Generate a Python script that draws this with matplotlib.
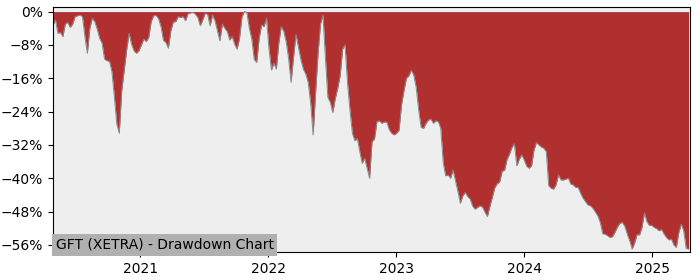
"""Drawdown chart for GFT (XETRA)."""

import matplotlib
matplotlib.use("Agg")
import matplotlib.pyplot as plt
import matplotlib.dates as mdates
from matplotlib.ticker import MultipleLocator, PercentFormatter
import numpy as np
import pandas as pd

# weekly samples, depth below the running peak in percent
start_date = "2020-04-27"
end_date = "2025-04-18"
depth_pct = [
    3.2, 2.0, 5.2, 5.0, 6.0, 3.0, 2.6, 3.8, 3.0, 1.2,
    1.0, 0.8, 1.2, 6.0, 10.0, 4.0, 1.6, 2.4, 4.2, 6.4,
    7.6, 11.4, 11.8, 11.9, 14.4, 20.4, 27.0, 29.2, 19.0, 14.2,
    9.2, 5.2, 7.8, 9.4, 10.0, 9.4, 8.0, 6.6, 7.2, 6.2,
    2.4, 1.0, 0.9, 1.7, 3.6, 6.9, 7.4, 8.8, 4.6, 2.5,
    2.4, 1.2, 1.4, 1.2, 2.2, 0.5, 0.3, 0.2, 0.6, 1.4,
    3.4, 2.0, 0.4, 0.7, 3.4, 0.8, 2.2, 4.6, 7.0, 3.0,
    4.0, 4.8, 6.8, 6.0, 7.8, 9.0, 6.4, 1.2, 0.0, 0.2,
    4.0, 6.6, 11.5, 12.2, 6.4, 3.2, 3.6, 1.6, 8.8, 14.0,
    12.4, 13.8, 7.6, 3.6, 4.7, 7.2, 11.2, 17.0, 11.0, 5.5,
    8.5, 11.5, 13.8, 15.0, 17.0, 22.0, 29.6, 19.5, 10.0, 3.0,
    0.8, 11.0, 20.6, 21.8, 24.2, 20.9, 18.4, 15.4, 9.0, 8.0,
    17.0, 23.6, 29.2, 31.0, 30.4, 33.6, 36.4, 35.2, 37.6, 40.0,
    31.2, 30.6, 26.4, 26.2, 26.8, 26.5, 26.5, 28.3, 29.2, 29.6,
    29.2, 28.5, 22.4, 19.0, 16.0, 15.4, 14.1, 15.2, 18.2, 23.6,
    27.8, 28.0, 26.8, 26.0, 25.8, 26.8, 26.2, 26.4, 28.0, 36.2,
    39.4, 39.2, 40.0, 38.0, 40.6, 43.2, 46.0, 44.2, 43.4, 44.4,
    45.0, 46.7, 47.4, 47.0, 46.6, 46.9, 48.1, 49.2, 46.8, 44.6,
    42.3, 41.3, 40.9, 38.3, 38.1, 35.5, 34.2, 32.6, 31.7, 37.0,
    35.4, 34.4, 35.6, 37.1, 37.6, 37.0, 33.2, 31.4, 32.0, 32.5,
    32.8, 33.6, 41.8, 42.4, 42.6, 41.5, 39.2, 40.4, 40.4, 40.2,
    40.0, 41.4, 41.6, 42.2, 42.2, 43.6, 44.8, 45.6, 46.4, 46.6,
    47.2, 48.1, 49.0, 50.6, 53.3, 53.4, 53.8, 54.2, 54.0, 52.9,
    51.7, 50.8, 50.6, 51.5, 53.4, 55.0, 57.0, 55.5, 53.5, 53.6,
    51.8, 48.3, 50.4, 51.3, 51.3, 51.8, 52.1, 52.6, 52.3, 53.4,
    54.2, 54.8, 54.6, 56.0, 56.6, 53.0, 51.0, 52.6, 56.8, 57.0,
]
title = "GFT (XETRA) - Drawdown Chart"

dates = pd.date_range(start_date, periods=len(depth_pct), freq="7D")
drawdown = -np.array(depth_pct)

fig = plt.figure(figsize=(7, 2.8), dpi=100)
ax = fig.add_axes([0.0757, 0.1, 0.91, 0.875])
ax.set_facecolor("#eeeeee")

ax.fill_between(dates, drawdown, 0, color="#b03030", linewidth=0)
ax.plot(dates, drawdown, color="#888888", linewidth=0.7)

ax.set_xlim(pd.Timestamp(start_date), pd.Timestamp(end_date))
ax.set_ylim(-57.7, 1.1)
ax.yaxis.set_major_locator(MultipleLocator(8))
ax.yaxis.set_major_formatter(PercentFormatter(decimals=0))
ax.xaxis.set_major_locator(mdates.YearLocator())
ax.xaxis.set_major_formatter(mdates.DateFormatter("%Y"))

ax.text(0.004, 0.0, title, transform=ax.transAxes, ha="left", va="bottom",
        fontsize=10, bbox=dict(facecolor="#b0b0b0", edgecolor="none", pad=2.8))

fig.savefig("out.png", dpi=100)
plt.close(fig)
